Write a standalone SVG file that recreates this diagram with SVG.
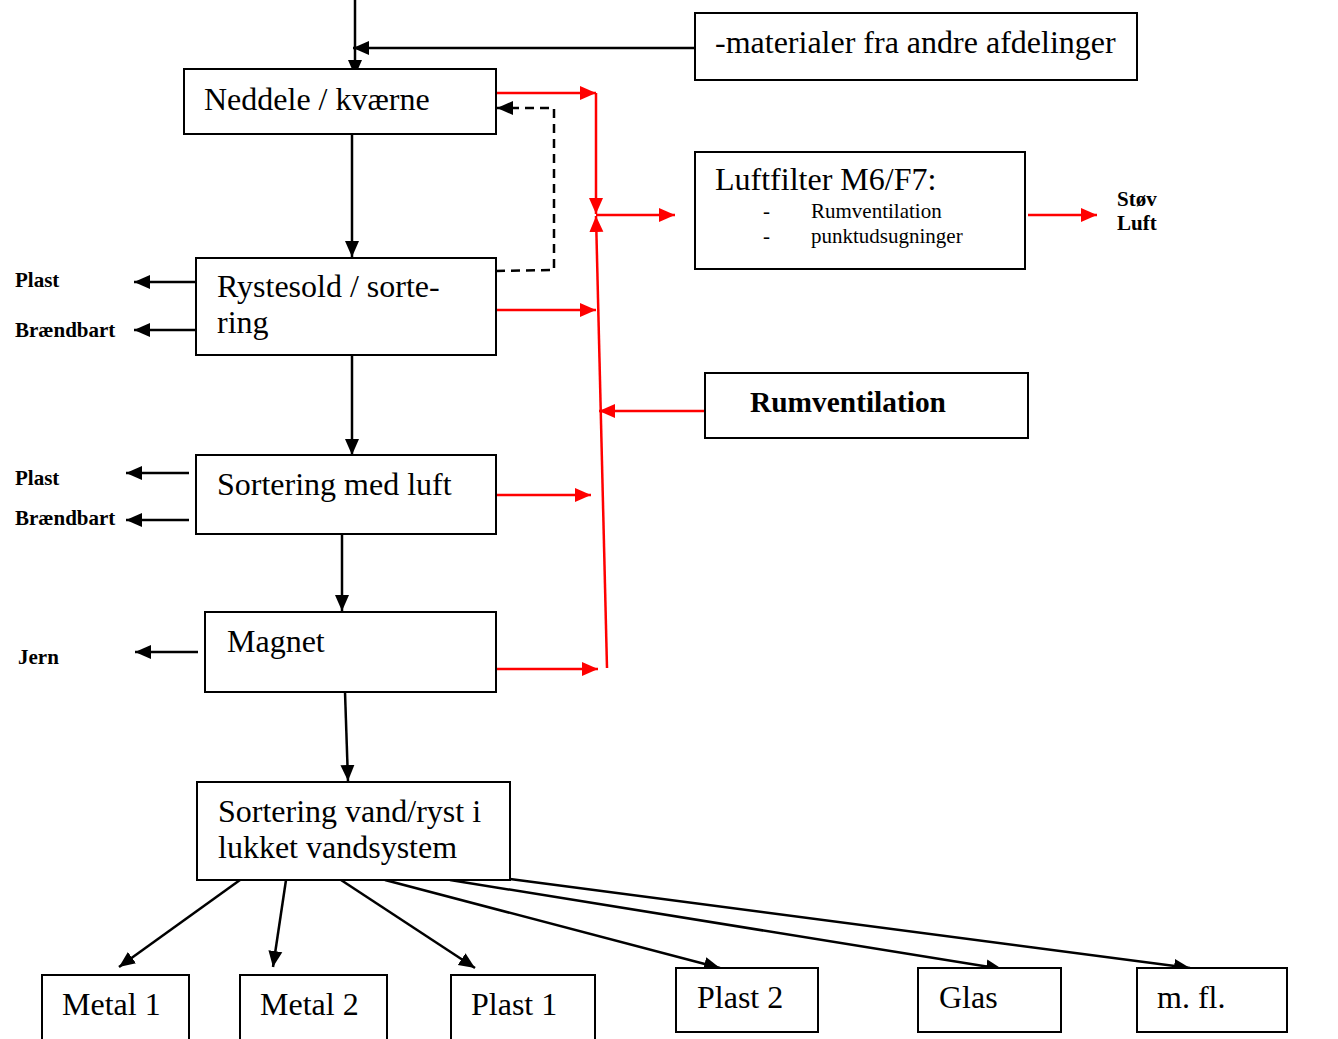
<svg xmlns="http://www.w3.org/2000/svg" width="1338" height="1039" viewBox="0 0 1338 1039">
<style>
.box{fill:#fff;stroke:#000;stroke-width:2}
.t{font-family:"Liberation Serif","Times New Roman",serif;font-size:32px;fill:#000}
.s{font-family:"Liberation Serif","Times New Roman",serif;font-size:21px;fill:#000}
.b{font-family:"Liberation Serif","Times New Roman",serif;font-size:21px;font-weight:bold;fill:#000}
.bk{stroke:#000;stroke-width:2.5;fill:none}
.rd{stroke:#ff0000;stroke-width:2.5;fill:none}
</style>
<defs>
<marker id="ab" markerUnits="userSpaceOnUse" markerWidth="18" markerHeight="16" refX="16" refY="8" orient="auto"><path d="M0,1 L16,8 L0,15 Z" fill="#000"/></marker>
<marker id="ar" markerUnits="userSpaceOnUse" markerWidth="18" markerHeight="16" refX="16" refY="8" orient="auto"><path d="M0,1 L16,8 L0,15 Z" fill="#ff0000"/></marker>
</defs>
<rect width="1338" height="1039" fill="#fff"/>
<g id="connectors">
<line class="bk" x1="355" y1="0" x2="355" y2="76" marker-end="url(#ab)"/>
<line class="bk" x1="695" y1="48" x2="353" y2="48" marker-end="url(#ab)"/>
<line class="bk" x1="352" y1="134" x2="352" y2="257" marker-end="url(#ab)"/>
<line class="bk" x1="352" y1="355" x2="352" y2="455" marker-end="url(#ab)"/>
<line class="bk" x1="342" y1="534" x2="342" y2="611" marker-end="url(#ab)"/>
<line class="bk" x1="345" y1="692" x2="348" y2="781" marker-end="url(#ab)"/>
<polyline class="bk" points="496,271 554,270 554,108 497,108" stroke-dasharray="9,6" marker-end="url(#ab)"/>
<line class="bk" x1="196" y1="282" x2="134" y2="282" marker-end="url(#ab)"/>
<line class="bk" x1="196" y1="330" x2="134" y2="330" marker-end="url(#ab)"/>
<line class="bk" x1="189" y1="473" x2="126" y2="473" marker-end="url(#ab)"/>
<line class="bk" x1="189" y1="520" x2="126" y2="520" marker-end="url(#ab)"/>
<line class="bk" x1="198" y1="652" x2="135" y2="652" marker-end="url(#ab)"/>
<line class="bk" x1="240" y1="880" x2="119" y2="967" marker-end="url(#ab)"/>
<line class="bk" x1="286" y1="880" x2="273" y2="967" marker-end="url(#ab)"/>
<line class="bk" x1="341" y1="880" x2="475" y2="968" marker-end="url(#ab)"/>
<line class="bk" x1="385" y1="880" x2="720" y2="968" marker-end="url(#ab)"/>
<line class="bk" x1="450" y1="880" x2="1002" y2="969" marker-end="url(#ab)"/>
<line class="bk" x1="510" y1="879" x2="1190" y2="968" marker-end="url(#ab)"/>
<line class="rd" x1="496" y1="93" x2="596" y2="93" marker-end="url(#ar)"/>
<line class="rd" x1="596" y1="93" x2="596" y2="214" marker-end="url(#ar)"/>
<line class="rd" x1="607" y1="668" x2="596" y2="216" marker-end="url(#ar)"/>
<line class="rd" x1="596" y1="215" x2="675" y2="215" marker-end="url(#ar)"/>
<line class="rd" x1="1028" y1="215" x2="1097" y2="215" marker-end="url(#ar)"/>
<line class="rd" x1="496" y1="310" x2="596" y2="310" marker-end="url(#ar)"/>
<line class="rd" x1="489" y1="495" x2="591" y2="495" marker-end="url(#ar)"/>
<line class="rd" x1="496" y1="669" x2="598" y2="669" marker-end="url(#ar)"/>
<line class="rd" x1="711" y1="411" x2="599" y2="411" marker-end="url(#ar)"/>
</g>
<g id="materialer"><rect class="box" x="695" y="13" width="442" height="67"/><text class="t" x="715" y="53">-materialer fra andre afdelinger</text></g>
<g id="neddele"><rect class="box" x="184" y="69" width="312" height="65"/><text class="t" x="204" y="110">Neddele / kværne</text></g>
<g id="luftfilter"><rect class="box" x="695" y="152" width="330" height="117"/><text class="t" x="715" y="190">Luftfilter M6/F7:</text>
<text class="s" x="763" y="218">-</text><text class="s" x="811" y="218">Rumventilation</text>
<text class="s" x="763" y="243">-</text><text class="s" x="811" y="243">punktudsugninger</text></g>
<g id="stoev"><text class="b" x="1117" y="206">Støv</text><text class="b" x="1117" y="230">Luft</text></g>
<g id="rystesold"><rect class="box" x="196" y="258" width="300" height="97"/><text class="t" x="217" y="297">Rystesold / sorte-</text><text class="t" x="217" y="333">ring</text></g>
<g id="lbl1"><text class="b" x="15" y="287">Plast</text><text class="b" x="15" y="337">Brændbart</text></g>
<g id="sortluft"><rect class="box" x="196" y="455" width="300" height="79"/><text class="t" x="217" y="495">Sortering med luft</text></g>
<g id="lbl2"><text class="b" x="15" y="485">Plast</text><text class="b" x="15" y="525">Brændbart</text></g>
<g id="rumvent"><rect class="box" x="705" y="373" width="323" height="65"/><text class="t" x="750" y="412" style="font-weight:bold;font-size:29.4px">Rumventilation</text></g>
<g id="magnet"><rect class="box" x="205" y="612" width="291" height="80"/><text class="t" x="227" y="652">Magnet</text></g>
<g id="jern"><text class="b" x="18" y="664">Jern</text></g>
<g id="sortvand"><rect class="box" x="197" y="782" width="313" height="98"/><text class="t" x="218" y="822">Sortering vand/ryst i</text><text class="t" x="218" y="858">lukket vandsystem</text></g>
<g id="metal1"><rect class="box" x="42" y="975" width="147" height="80"/><text class="t" x="62" y="1015">Metal 1</text></g>
<g id="metal2"><rect class="box" x="240" y="975" width="147" height="80"/><text class="t" x="260" y="1015">Metal 2</text></g>
<g id="plast1"><rect class="box" x="451" y="975" width="144" height="80"/><text class="t" x="471" y="1015">Plast 1</text></g>
<g id="plast2"><rect class="box" x="676" y="968" width="142" height="64"/><text class="t" x="697" y="1008">Plast 2</text></g>
<g id="glas"><rect class="box" x="918" y="968" width="143" height="64"/><text class="t" x="939" y="1008">Glas</text></g>
<g id="mfl"><rect class="box" x="1137" y="968" width="150" height="64"/><text class="t" x="1157" y="1008">m. fl.</text></g>
</svg>
